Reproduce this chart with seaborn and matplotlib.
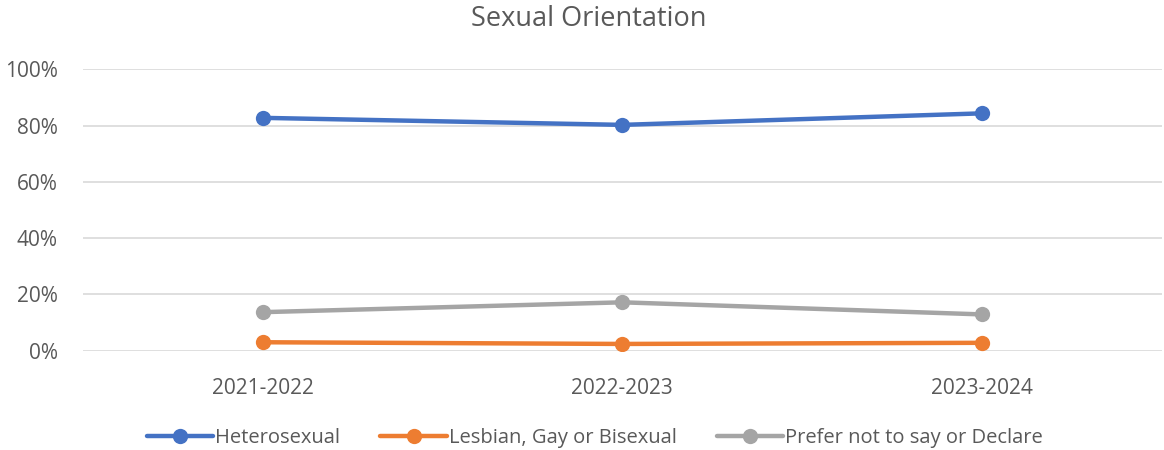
import pandas as pd
import seaborn as sns
import matplotlib.pyplot as plt
from matplotlib.ticker import PercentFormatter

years = ['2021-2022', '2022-2023', '2023-2024']
heterosexual = [0.828, 0.803, 0.844]
lgb = [0.030, 0.024, 0.028]
prefer_not = [0.137, 0.172, 0.129]
series_names = ['Heterosexual', 'Lesbian, Gay or Bisexual', 'Prefer not to say or Declare']
colors = ['#4472C4', '#ED7D31', '#A5A5A5']

# long-form table for seaborn
rows = []
for name, vals in zip(series_names, [heterosexual, lgb, prefer_not]):
    for y, v in zip(years, vals):
        rows.append({'Year': y, 'Share': v, 'Group': name})
df = pd.DataFrame(rows)

sns.set_style('white')
plt.rcParams['font.family'] = ['Open Sans', 'DejaVu Sans']

fig = plt.figure(figsize=(11.64, 4.5), dpi=100)
ax = fig.add_axes([0.0713, 0.2207, 0.9267, 0.6249])

sns.lineplot(data=df, x='Year', y='Share', hue='Group', palette=colors,
             marker='o', markersize=11, markeredgewidth=0, linewidth=3.2,
             sort=False, ax=ax)

ax.set_ylim(0, 1)
ax.set_xlim(-0.5, 2.5)
ax.yaxis.set_major_formatter(PercentFormatter(1.0, decimals=0))
ax.set_yticks([0, 0.2, 0.4, 0.6, 0.8, 1.0])
ax.grid(axis='y', color='#D9D9D9', linewidth=1.2)
ax.set_axisbelow(True)
for s in ax.spines.values():
    s.set_visible(False)
ax.tick_params(axis='both', length=0, labelsize=15, labelcolor='#595959')
ax.tick_params(axis='x', pad=20)
ax.tick_params(axis='y', pad=18)
ax.set_xlabel('')
ax.set_ylabel('')

fig.suptitle('Sexual Orientation', x=0.506, y=0.99, fontsize=19.5, color='#595959')

handles, labels = ax.get_legend_handles_labels()
ax.legend(handles, labels, loc='center', bbox_to_anchor=(0.4745, -0.31),
          ncol=3, frameon=False, fontsize=14.5, labelcolor='#595959',
          handlelength=3.3, handletextpad=0.1, columnspacing=2.0)

fig.savefig('out.png', dpi=100)
